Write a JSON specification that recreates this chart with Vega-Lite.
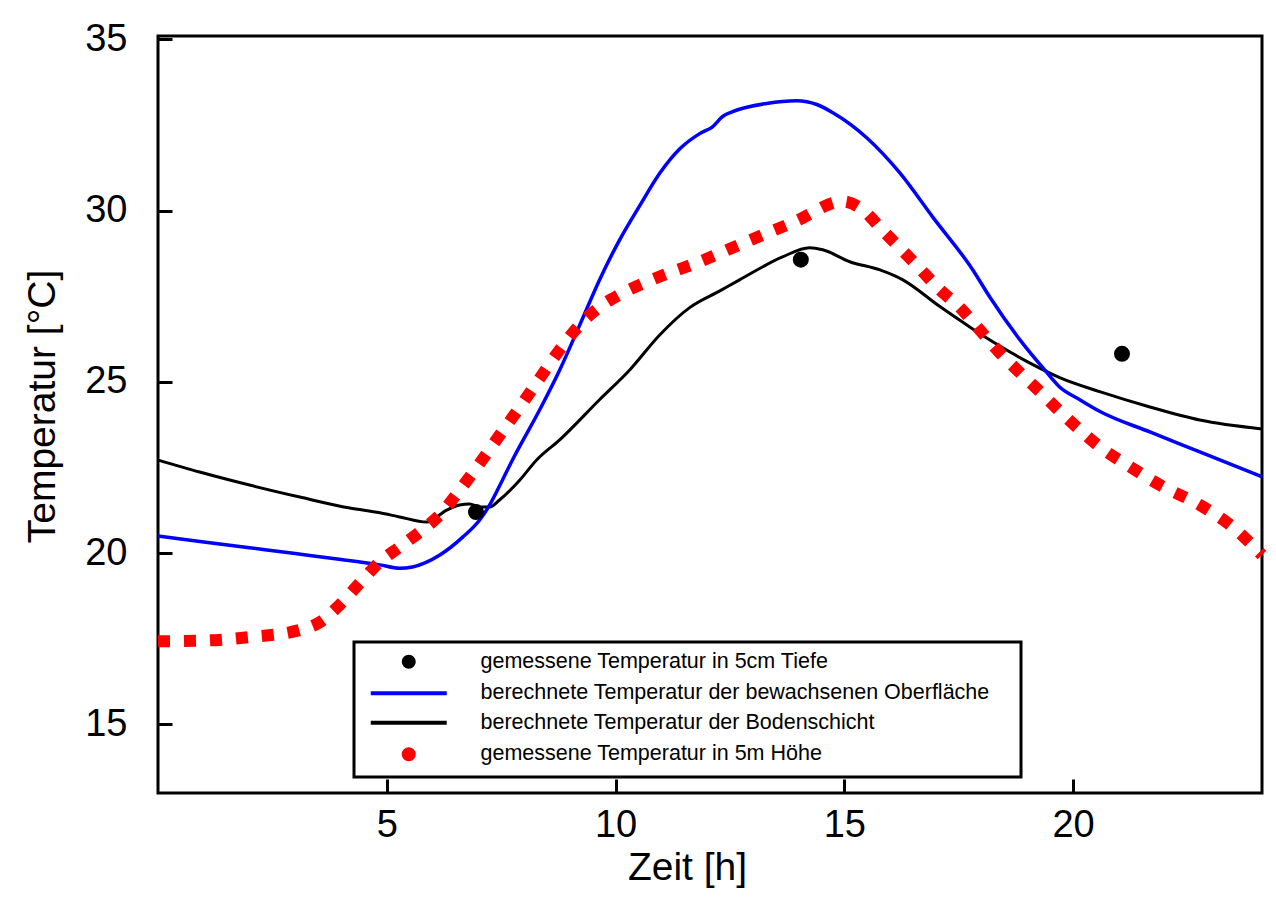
{
  "$schema": "https://vega.github.io/schema/vega-lite/v6.json",
  "width": 1104,
  "height": 757,
  "autosize": {"type": "none"},
  "padding": {"left": 158, "top": 36, "right": 14, "bottom": 107},
  "background": "white",
  "config": {
    "view": {"stroke": "black", "strokeWidth": 3},
    "font": "Liberation Sans",
    "axis": {
      "grid": false, "domain": false, "ticks": true, "tickColor": "black", "tickWidth": 3, "tickSize": -14,
      "labelFont": "Liberation Sans", "labelFontSize": 38, "labelColor": "black",
      "titleFont": "Liberation Sans", "titleFontSize": 39, "titleFontWeight": "normal", "titleColor": "black"
    },
    "legend": {
      "orient": "none", "legendX": 196, "legendY": 606,
      "strokeColor": "black", "strokeWidth": 3, "fillColor": "white", "padding": 9,
      "labelFont": "Liberation Sans", "labelFontSize": 21.5, "labelColor": "black", "labelLimit": 0,
      "symbolSize": 100, "symbolStrokeWidth": 4, "symbolOffset": 35, "labelOffset": 61, "rowPadding": 6.5, "symbolOpacity": 1,
      "titleOrient": "right", "titleFontSize": 1, "titlePadding": 22
    }
  },
  "data": {"values": [
    {"s": "gemessene Temperatur in 5cm Tiefe", "h": 6.95, "T": 21.2},
    {"s": "gemessene Temperatur in 5cm Tiefe", "h": 14.05, "T": 28.57},
    {"s": "gemessene Temperatur in 5cm Tiefe", "h": 21.07, "T": 25.82},

    {"s": "berechnete Temperatur der bewachsenen Oberfläche", "h": 0, "T": 20.5},
    {"s": "berechnete Temperatur der bewachsenen Oberfläche", "h": 1, "T": 20.33},
    {"s": "berechnete Temperatur der bewachsenen Oberfläche", "h": 2, "T": 20.16},
    {"s": "berechnete Temperatur der bewachsenen Oberfläche", "h": 3, "T": 19.99},
    {"s": "berechnete Temperatur der bewachsenen Oberfläche", "h": 4, "T": 19.82},
    {"s": "berechnete Temperatur der bewachsenen Oberfläche", "h": 4.85, "T": 19.66},
    {"s": "berechnete Temperatur der bewachsenen Oberfläche", "h": 5.28, "T": 19.56},
    {"s": "berechnete Temperatur der bewachsenen Oberfläche", "h": 5.56, "T": 19.6},
    {"s": "berechnete Temperatur der bewachsenen Oberfläche", "h": 6.16, "T": 19.95},
    {"s": "berechnete Temperatur der bewachsenen Oberfläche", "h": 6.66, "T": 20.47},
    {"s": "berechnete Temperatur der bewachsenen Oberfläche", "h": 7.03, "T": 20.97},
    {"s": "berechnete Temperatur der bewachsenen Oberfläche", "h": 7.25, "T": 21.41},
    {"s": "berechnete Temperatur der bewachsenen Oberfläche", "h": 7.53, "T": 22.14},
    {"s": "berechnete Temperatur der bewachsenen Oberfläche", "h": 7.75, "T": 22.73},
    {"s": "berechnete Temperatur der bewachsenen Oberfläche", "h": 8.34, "T": 24.18},
    {"s": "berechnete Temperatur der bewachsenen Oberfläche", "h": 8.78, "T": 25.35},
    {"s": "berechnete Temperatur der bewachsenen Oberfläche", "h": 9.22, "T": 26.67},
    {"s": "berechnete Temperatur der bewachsenen Oberfläche", "h": 9.65, "T": 27.98},
    {"s": "berechnete Temperatur der bewachsenen Oberfläche", "h": 10.09, "T": 29.15},
    {"s": "berechnete Temperatur der bewachsenen Oberfläche", "h": 10.53, "T": 30.15},
    {"s": "berechnete Temperatur der bewachsenen Oberfläche", "h": 10.97, "T": 31.1},
    {"s": "berechnete Temperatur der bewachsenen Oberfläche", "h": 11.4, "T": 31.8},
    {"s": "berechnete Temperatur der bewachsenen Oberfläche", "h": 11.84, "T": 32.25},
    {"s": "berechnete Temperatur der bewachsenen Oberfläche", "h": 12.12, "T": 32.45},
    {"s": "berechnete Temperatur der bewachsenen Oberfläche", "h": 12.34, "T": 32.75},
    {"s": "berechnete Temperatur der bewachsenen Oberfläche", "h": 12.56, "T": 32.89},
    {"s": "berechnete Temperatur der bewachsenen Oberfläche", "h": 13.3, "T": 33.13},
    {"s": "berechnete Temperatur der bewachsenen Oberfläche", "h": 13.96, "T": 33.21},
    {"s": "berechnete Temperatur der bewachsenen Oberfläche", "h": 14.4, "T": 33.1},
    {"s": "berechnete Temperatur der bewachsenen Oberfläche", "h": 14.75, "T": 32.86},
    {"s": "berechnete Temperatur der bewachsenen Oberfläche", "h": 15.49, "T": 32.13},
    {"s": "berechnete Temperatur der bewachsenen Oberfläche", "h": 16.21, "T": 31.11},
    {"s": "berechnete Temperatur der bewachsenen Oberfläche", "h": 16.93, "T": 29.82},
    {"s": "berechnete Temperatur der bewachsenen Oberfläche", "h": 17.81, "T": 28.27},
    {"s": "berechnete Temperatur der bewachsenen Oberfläche", "h": 18.18, "T": 27.48},
    {"s": "berechnete Temperatur der bewachsenen Oberfläche", "h": 18.84, "T": 26.23},
    {"s": "berechnete Temperatur der bewachsenen Oberfläche", "h": 19.38, "T": 25.35},
    {"s": "berechnete Temperatur der bewachsenen Oberfläche", "h": 19.7, "T": 24.86},
    {"s": "berechnete Temperatur der bewachsenen Oberfläche", "h": 20.15, "T": 24.48},
    {"s": "berechnete Temperatur der bewachsenen Oberfläche", "h": 20.6, "T": 24.13},
    {"s": "berechnete Temperatur der bewachsenen Oberfläche", "h": 21.68, "T": 23.54},
    {"s": "berechnete Temperatur der bewachsenen Oberfläche", "h": 22.77, "T": 22.96},
    {"s": "berechnete Temperatur der bewachsenen Oberfläche", "h": 24.13, "T": 22.23},

    {"s": "berechnete Temperatur der Bodenschicht", "h": 0, "T": 22.72},
    {"s": "berechnete Temperatur der Bodenschicht", "h": 0.91, "T": 22.37},
    {"s": "berechnete Temperatur der Bodenschicht", "h": 2.0, "T": 21.99},
    {"s": "berechnete Temperatur der Bodenschicht", "h": 3.1, "T": 21.64},
    {"s": "berechnete Temperatur der Bodenschicht", "h": 4.19, "T": 21.32},
    {"s": "berechnete Temperatur der Bodenschicht", "h": 4.85, "T": 21.18},
    {"s": "berechnete Temperatur der Bodenschicht", "h": 5.28, "T": 21.06},
    {"s": "berechnete Temperatur der Bodenschicht", "h": 5.87, "T": 20.91},
    {"s": "berechnete Temperatur der Bodenschicht", "h": 6.31, "T": 21.26},
    {"s": "berechnete Temperatur der Bodenschicht", "h": 6.59, "T": 21.41},
    {"s": "berechnete Temperatur der Bodenschicht", "h": 6.81, "T": 21.44},
    {"s": "berechnete Temperatur der Bodenschicht", "h": 7.03, "T": 21.35},
    {"s": "berechnete Temperatur der Bodenschicht", "h": 7.25, "T": 21.35},
    {"s": "berechnete Temperatur der Bodenschicht", "h": 7.47, "T": 21.56},
    {"s": "berechnete Temperatur der Bodenschicht", "h": 7.91, "T": 22.14},
    {"s": "berechnete Temperatur der Bodenschicht", "h": 8.28, "T": 22.73},
    {"s": "berechnete Temperatur der Bodenschicht", "h": 8.78, "T": 23.31},
    {"s": "berechnete Temperatur der Bodenschicht", "h": 9.65, "T": 24.48},
    {"s": "berechnete Temperatur der Bodenschicht", "h": 10.31, "T": 25.35},
    {"s": "berechnete Temperatur der Bodenschicht", "h": 10.97, "T": 26.38},
    {"s": "berechnete Temperatur der Bodenschicht", "h": 11.62, "T": 27.17},
    {"s": "berechnete Temperatur der Bodenschicht", "h": 12.28, "T": 27.66},
    {"s": "berechnete Temperatur der Bodenschicht", "h": 12.71, "T": 27.98},
    {"s": "berechnete Temperatur der Bodenschicht", "h": 13.65, "T": 28.65},
    {"s": "berechnete Temperatur der Bodenschicht", "h": 14.24, "T": 28.92},
    {"s": "berechnete Temperatur der Bodenschicht", "h": 14.53, "T": 28.86},
    {"s": "berechnete Temperatur der Bodenschicht", "h": 15.12, "T": 28.51},
    {"s": "berechnete Temperatur der Bodenschicht", "h": 15.78, "T": 28.27},
    {"s": "berechnete Temperatur der Bodenschicht", "h": 16.28, "T": 27.98},
    {"s": "berechnete Temperatur der Bodenschicht", "h": 17.09, "T": 27.2},
    {"s": "berechnete Temperatur der Bodenschicht", "h": 17.75, "T": 26.6},
    {"s": "berechnete Temperatur der Bodenschicht", "h": 18.4, "T": 26.05},
    {"s": "berechnete Temperatur der Bodenschicht", "h": 19.06, "T": 25.55},
    {"s": "berechnete Temperatur der Bodenschicht", "h": 19.72, "T": 25.12},
    {"s": "berechnete Temperatur der Bodenschicht", "h": 20.6, "T": 24.71},
    {"s": "berechnete Temperatur der Bodenschicht", "h": 21.68, "T": 24.27},
    {"s": "berechnete Temperatur der Bodenschicht", "h": 22.77, "T": 23.89},
    {"s": "berechnete Temperatur der Bodenschicht", "h": 24.13, "T": 23.63},

    {"s": "gemessene Temperatur in 5m Höhe", "h": 0, "T": 17.43},
    {"s": "gemessene Temperatur in 5m Höhe", "h": 1, "T": 17.45},
    {"s": "gemessene Temperatur in 5m Höhe", "h": 2.0, "T": 17.55},
    {"s": "gemessene Temperatur in 5m Höhe", "h": 3.1, "T": 17.76},
    {"s": "gemessene Temperatur in 5m Höhe", "h": 3.54, "T": 17.99},
    {"s": "gemessene Temperatur in 5m Höhe", "h": 3.97, "T": 18.49},
    {"s": "gemessene Temperatur in 5m Höhe", "h": 4.41, "T": 19.13},
    {"s": "gemessene Temperatur in 5m Höhe", "h": 4.85, "T": 19.75},
    {"s": "gemessene Temperatur in 5m Höhe", "h": 5.28, "T": 20.18},
    {"s": "gemessene Temperatur in 5m Höhe", "h": 5.72, "T": 20.62},
    {"s": "gemessene Temperatur in 5m Höhe", "h": 6.16, "T": 21.12},
    {"s": "gemessene Temperatur in 5m Höhe", "h": 6.6, "T": 21.85},
    {"s": "gemessene Temperatur in 5m Höhe", "h": 7.04, "T": 22.64},
    {"s": "gemessene Temperatur in 5m Höhe", "h": 7.47, "T": 23.45},
    {"s": "gemessene Temperatur in 5m Höhe", "h": 7.91, "T": 24.27},
    {"s": "gemessene Temperatur in 5m Höhe", "h": 8.35, "T": 25.12},
    {"s": "gemessene Temperatur in 5m Höhe", "h": 8.78, "T": 25.94},
    {"s": "gemessene Temperatur in 5m Höhe", "h": 9.22, "T": 26.67},
    {"s": "gemessene Temperatur in 5m Höhe", "h": 9.66, "T": 27.2},
    {"s": "gemessene Temperatur in 5m Höhe", "h": 10.09, "T": 27.55},
    {"s": "gemessene Temperatur in 5m Höhe", "h": 10.97, "T": 28.08},
    {"s": "gemessene Temperatur in 5m Höhe", "h": 11.84, "T": 28.51},
    {"s": "gemessene Temperatur in 5m Höhe", "h": 12.82, "T": 29.07},
    {"s": "gemessene Temperatur in 5m Höhe", "h": 13.92, "T": 29.68},
    {"s": "gemessene Temperatur in 5m Höhe", "h": 14.97, "T": 30.27},
    {"s": "gemessene Temperatur in 5m Höhe", "h": 15.4, "T": 30.03},
    {"s": "gemessene Temperatur in 5m Höhe", "h": 15.82, "T": 29.45},
    {"s": "gemessene Temperatur in 5m Höhe", "h": 16.21, "T": 28.92},
    {"s": "gemessene Temperatur in 5m Höhe", "h": 16.61, "T": 28.37},
    {"s": "gemessene Temperatur in 5m Höhe", "h": 17.09, "T": 27.69},
    {"s": "gemessene Temperatur in 5m Höhe", "h": 17.53, "T": 27.17},
    {"s": "gemessene Temperatur in 5m Höhe", "h": 17.96, "T": 26.52},
    {"s": "gemessene Temperatur in 5m Höhe", "h": 18.4, "T": 25.85},
    {"s": "gemessene Temperatur in 5m Höhe", "h": 18.84, "T": 25.27},
    {"s": "gemessene Temperatur in 5m Höhe", "h": 19.28, "T": 24.71},
    {"s": "gemessene Temperatur in 5m Höhe", "h": 19.72, "T": 24.13},
    {"s": "gemessene Temperatur in 5m Höhe", "h": 20.15, "T": 23.6},
    {"s": "gemessene Temperatur in 5m Höhe", "h": 20.59, "T": 23.1},
    {"s": "gemessene Temperatur in 5m Höhe", "h": 21.25, "T": 22.52},
    {"s": "gemessene Temperatur in 5m Höhe", "h": 21.9, "T": 21.99},
    {"s": "gemessene Temperatur in 5m Höhe", "h": 22.77, "T": 21.41},
    {"s": "gemessene Temperatur in 5m Höhe", "h": 23.43, "T": 20.83},
    {"s": "gemessene Temperatur in 5m Höhe", "h": 24.13, "T": 19.95}
  ]},
  "encoding": {
    "x": {"field": "h", "type": "quantitative",
      "scale": {"domain": [0, 24.13], "nice": false, "zero": false},
      "axis": {"values": [5, 10, 15, 20], "title": "Zeit [h]", "labelPadding": 27, "titlePadding": 4, "titleX": 529}},
    "y": {"field": "T", "type": "quantitative",
      "scale": {"domain": [13, 35.1], "nice": false, "zero": false},
      "axis": {"values": [15, 20, 25, 30, 35], "title": "Temperatur [°C]", "labelPadding": 45, "titlePadding": 22, "titleY": 370}},
    "stroke": {"field": "s", "type": "nominal",
      "scale": {
        "domain": ["gemessene Temperatur in 5cm Tiefe", "berechnete Temperatur der bewachsenen Oberfläche", "berechnete Temperatur der Bodenschicht", "gemessene Temperatur in 5m Höhe"],
        "range": ["#000000", "#0000ff", "#000000", "#ff0000"]},
      "legend": {"title": " "}}
  },
  "layer": [
    {
      "transform": [{"filter": "datum.s === 'berechnete Temperatur der Bodenschicht'"}],
      "mark": {"type": "line", "strokeWidth": 3, "interpolate": "monotone"}
    },
    {
      "transform": [{"filter": "datum.s === 'berechnete Temperatur der bewachsenen Oberfläche'"}],
      "mark": {"type": "line", "strokeWidth": 3.5, "interpolate": "monotone"}
    },
    {
      "transform": [{"filter": "datum.s === 'gemessene Temperatur in 5m Höhe'"}],
      "mark": {"type": "line", "strokeWidth": 12, "strokeDash": [12, 14], "strokeCap": "butt", "interpolate": "monotone"}
    },
    {
      "transform": [{"filter": "datum.s === 'gemessene Temperatur in 5cm Tiefe'"}],
      "mark": {"type": "point", "filled": true, "size": 196, "opacity": 1},
      "encoding": {
        "fill": {"field": "s", "type": "nominal",
          "scale": {
            "domain": ["gemessene Temperatur in 5cm Tiefe", "berechnete Temperatur der bewachsenen Oberfläche", "berechnete Temperatur der Bodenschicht", "gemessene Temperatur in 5m Höhe"],
            "range": ["#000000", "#0000ff", "#000000", "#ff0000"]},
          "legend": {"title": " "}},
        "shape": {"field": "s", "type": "nominal",
          "scale": {
            "domain": ["gemessene Temperatur in 5cm Tiefe", "berechnete Temperatur der bewachsenen Oberfläche", "berechnete Temperatur der Bodenschicht", "gemessene Temperatur in 5m Höhe"],
            "range": ["circle", "M-7.6,0H7.6", "M-7.6,0H7.6", "circle"]},
          "legend": {"title": " "}}
      }
    }
  ]
}
